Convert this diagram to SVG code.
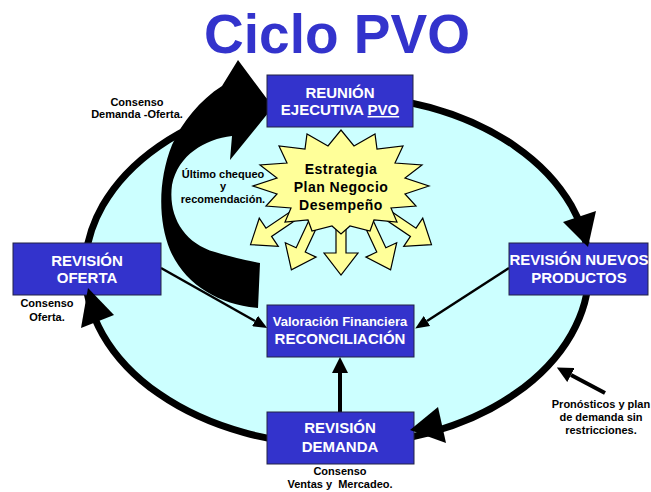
<svg xmlns="http://www.w3.org/2000/svg" xmlns:xlink="http://www.w3.org/1999/xlink" width="651" height="492" viewBox="0 0 651 492">
<style>
.box{fill:#3333cc;stroke:#222244;stroke-width:1}
.bt{font-family:"Liberation Sans",Arial,sans-serif;font-weight:bold;font-size:15px;fill:#ffffff;text-anchor:middle}
.bs{font-size:13px}
.lbl{font-family:"Liberation Sans",Arial,sans-serif;font-weight:bold;font-size:11px;fill:#000;text-anchor:middle}
.st{font-family:"Liberation Sans",Arial,sans-serif;font-weight:bold;font-size:14px;fill:#000;text-anchor:middle;letter-spacing:0.5px}
.yel{fill:#ffff99;stroke:#000;stroke-width:1.2;stroke-linejoin:miter}
.thin{stroke:#000;stroke-width:2.5;fill:none}
.thick{stroke:#000;stroke-width:4;fill:none}
</style>
<defs>
<marker id="ahs" markerUnits="userSpaceOnUse" markerWidth="14" markerHeight="12" refX="0" refY="6" orient="auto">
<path d="M0,0 L14,6 L0,12 Z" fill="#000"/>
</marker>
<marker id="ahb" markerUnits="userSpaceOnUse" markerWidth="16" markerHeight="16" refX="0" refY="8" orient="auto">
<path d="M0,0 L16,8 L0,16 Z" fill="#000"/>
</marker>
<path id="blk" d="M-10,-5 L22,-5 L22,-17 L44,0 L22,17 L22,5 L-10,5 Z"/>
</defs>
<rect width="651" height="492" fill="#ffffff"/>
<text x="337" y="53" font-family="'Liberation Sans',Arial,sans-serif" font-weight="bold" font-size="55" fill="#3333cc" text-anchor="middle">Ciclo PVO</text>

<g id="cycle">
<ellipse cx="337" cy="270" rx="252" ry="175" fill="#ccffff" stroke="#000" stroke-width="7"/>
</g>

<g id="connectors">
<line class="thin" x1="161" y1="268" x2="255" y2="321" marker-end="url(#ahs)"/>
<line class="thin" x1="509" y1="268" x2="427" y2="321" marker-end="url(#ahs)"/>
<line class="thick" x1="340" y1="412" x2="340" y2="373" marker-end="url(#ahb)"/>
<line class="thick" x1="605" y1="393" x2="571" y2="375" marker-end="url(#ahb)"/>
</g>

<g id="estrategia">
<use xlink:href="#blk" class="yel" transform="translate(287,220) rotate(146)"/>
<use xlink:href="#blk" class="yel" transform="translate(310,230) rotate(115)"/>
<use xlink:href="#blk" class="yel" transform="translate(341,231) rotate(90)"/>
<use xlink:href="#blk" class="yel" transform="translate(372,230) rotate(65)"/>
<use xlink:href="#blk" class="yel" transform="translate(395,220) rotate(34)"/>
<polygon class="yel" points="429,186 405,194 416,206 391,208 397,222 374,220 370,231 350,226 341,234 332,226 312,231 308,220 285,222 291,208 266,206 277,194 253,186 277,178 260,165 287,163 279,146 305,149 307,134 328,146 341,130 354,146 375,134 377,149 403,146 395,163 422,165 405,178"/>
<text class="st" x="341" y="174">Estrategia</text>
<text class="st" x="341" y="192">Plan Negocio</text>
<text class="st" x="341" y="210">Desempeño</text>
</g>

<g id="big-arrow">
<path d="M238,60 L273,107 L230,160 L232,136 C205,139 178,155 172,185 C168,215 183,243 215,252 C235,258 250,261 260,263 L258,308 C220,305 185,285 170,250 C158,220 158,180 172,145 C182,122 200,100 222,86 Z" fill="#000"/>
</g>

<g id="reunion">
<rect class="box" x="267" y="75" width="146" height="52"/>
<text class="bt" x="340" y="98">REUNIÓN</text>
<text class="bt" x="340" y="115">EJECUTIVA <tspan text-decoration="underline">PVO</tspan></text>
</g>

<g id="nuevos">
<rect class="box" x="509" y="243" width="139" height="52"/>
<text class="bt" x="579" y="265">REVISIÓN NUEVOS</text>
<text class="bt" x="579" y="283">PRODUCTOS</text>
</g>

<g id="oferta">
<rect class="box" x="13" y="243" width="148" height="52"/>
<text class="bt" x="87" y="266">REVISIÓN</text>
<text class="bt" x="87" y="283">OFERTA</text>
</g>

<g id="valoracion">
<rect class="box" x="267" y="305" width="147" height="52"/>
<text class="bt bs" x="340" y="326">Valoración Financiera</text>
<text class="bt" x="340" y="344">RECONCILIACIÓN</text>
</g>

<g id="demanda">
<rect class="box" x="267" y="412" width="147" height="52"/>
<text class="bt" x="340" y="433">REVISIÓN</text>
<text class="bt" x="340" y="452">DEMANDA</text>
</g>

<g id="ring-heads" fill="#000">
<polygon points="563,222 596,211 588,247"/>
<polygon points="410,430 438,407 446,443"/>
<polygon points="88,288 81,328 114,315"/>
</g>

<g id="labels">
<text class="lbl" x="137" y="106">Consenso</text>
<text class="lbl" x="137" y="118">Demanda -Oferta.</text>
<text class="lbl" x="223" y="178">Último chequeo</text>
<text class="lbl" x="223" y="190">y</text>
<text class="lbl" x="223" y="203">recomendación.</text>
<text class="lbl" x="47" y="307">Consenso</text>
<text class="lbl" x="47" y="321">Oferta.</text>
<text class="lbl" x="340" y="475">Consenso</text>
<text class="lbl" x="340" y="488" xml:space="preserve">Ventas y  Mercadeo.</text>
<text class="lbl" x="601" y="408">Pronósticos y plan</text>
<text class="lbl" x="601" y="421">de demanda sin</text>
<text class="lbl" x="601" y="434">restricciones.</text>
</g>
</svg>
